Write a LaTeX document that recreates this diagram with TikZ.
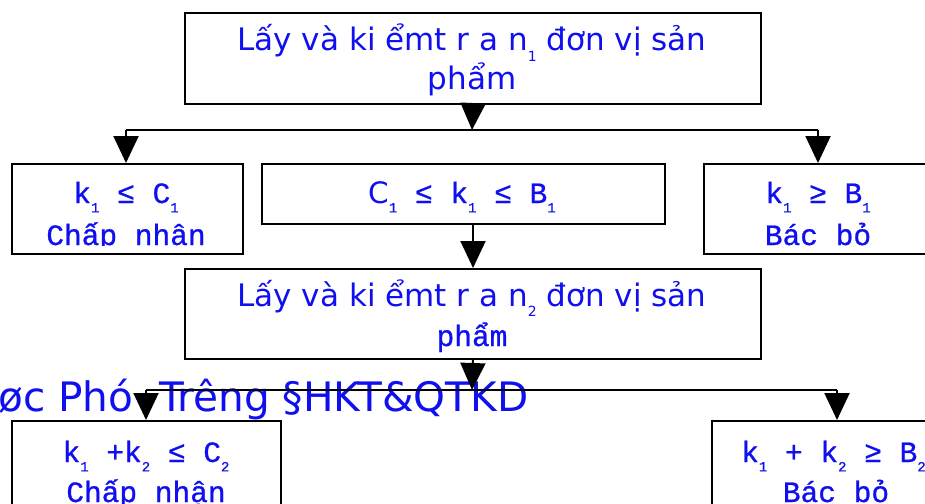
\documentclass[tikz,border=0pt]{standalone}
\usepackage{fontspec}
\setmainfont{DejaVu Sans}
\newfontfamily\monof[FakeBold=0.8]{Liberation Mono}
\usetikzlibrary{arrows.meta}
\definecolor{txtblue}{RGB}{15,15,240}
\newcommand\sbs[1]{\raisebox{-0.6ex}{\fontsize{14}{14}\selectfont #1}}
\begin{document}
\begin{tikzpicture}[x=1pt,y=-1pt,
  box/.style={draw=black,line width=2pt,inner sep=0pt,anchor=north west},
  sanst/.style={text=txtblue,font=\fontsize{31}{31}\selectfont,inner sep=0pt,anchor=base},
  monot/.style={text=txtblue,font=\monof\fontsize{29.5}{29.5}\selectfont,inner sep=0pt,anchor=base},
  wmark/.style={text=txtblue,font=\fontsize{46}{46}\selectfont,inner sep=0pt,anchor=base west},
  conn/.style={line width=2pt,draw=black},
  arr/.style={conn,-{Triangle[width=25pt,length=27pt]}}]
\useasboundingbox (0,0) rectangle (925,503);
\clip (0,0) rectangle (925,503);
\fill[white] (0,0) rectangle (925,503);
% boxes
\node[box,minimum width=576pt,minimum height=91pt] (b1) at (184,12) {};
\node[box,minimum width=231pt,minimum height=90pt] (bA) at (11,163) {};
\node[box,minimum width=403pt,minimum height=60pt] (bB) at (261,163) {};
\node[box,minimum width=230pt,minimum height=90pt] (bC) at (703,163) {};
\node[box,minimum width=576pt,minimum height=90pt] (b4) at (184,268) {};
\node[box,minimum width=269pt,minimum height=100pt] (bD) at (11,420) {};
\node[box,minimum width=250pt,minimum height=100pt] (bE) at (711,420) {};
% texts
\node[sanst] (t1a) at (472,51) {Lấy và ki ểmt r a n\sbs{1} đơn vị sản};
\node[sanst] (t1b) at (472,89) {phẩm};
\begin{scope}
\clip (11,163) rectangle (242,245);
\node[monot] (tAa) at (126,203) {k\sbs{1} ≤ C\sbs{1}};
\node[monot] (tAb) at (126,245) {Chấp nhận};
\end{scope}
\node[monot] (tB) at (462,203) {{\rmfamily C}\sbs{1} ≤ k\sbs{1} ≤ B\sbs{1}};
\begin{scope}
\clip (703,163) rectangle (933,245);
\node[monot] (tCa) at (818,203) {k\sbs{1} ≥ B\sbs{1}};
\node[monot] (tCb) at (818,245) {Bác bỏ};
\end{scope}
\node[sanst] (t4a) at (472,306) {Lấy và ki ểmt r a n\sbs{2} đơn vị sản};
\node[monot] (t4b) at (472,346) {phẩm};
\node[monot] (tDa) at (146,462) {k\sbs{1} +k\sbs{2} ≤ C\sbs{2}};
\node[monot] (tDb) at (146,502) {Chấp nhận};
\node[monot,anchor=base west] (tEa) at (741,462) {k\sbs{1} + k\sbs{2} ≥ B\sbs{2}};
\node[monot] (tEb) at (836,502) {Bác bỏ};
% watermark
\node[wmark] (wm) at (-2,411) {\resizebox{530pt}{!}{øc Phó\ \ Trêng §HKT\&QTKD}};
% connectors
\coordinate (j1) at (472,130);
\coordinate (l1) at (126,130);
\coordinate (r1) at (818,130);
\draw[arr] (b1.south) -- (j1);
\draw[conn] (l1) -- (r1);
\draw[arr] (l1) -- (l1 |- bA.north);
\draw[arr] (r1) -- (r1 |- bC.north);
\draw[arr] (b4.north |- bB.south) -- (b4.north);
\coordinate (j2) at (472,390);
\coordinate (l2) at (146,390);
\coordinate (r2) at (837,390);
\draw[arr] (b4.south) -- (j2);
\draw[conn] (l2) -- (r2);
\draw[arr] (l2) -- (l2 |- bD.north);
\draw[arr] (r2) -- (r2 |- bE.north);
\end{tikzpicture}
\end{document}
